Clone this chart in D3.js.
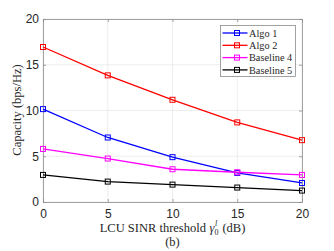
<!DOCTYPE html>
<html>
<head>
<meta charset="utf-8">
<script src="https://cdn.jsdelivr.net/npm/d3@7"></script>
<style>
  body { margin: 0; background: #fff; }
  .tick text { font-family: "Liberation Sans", Arial, sans-serif; font-size: 12px; fill: #262626; }
  .lbl { font-family: "Liberation Serif", "DejaVu Serif", serif; font-size: 12.5px; fill: #262626; }
</style>
</head>
<body>
<div class="chart"></div>
<script>
// chart data
var thresholds = [0, 5, 10, 15, 20];
var algo1 = [10.15, 7.05, 4.9, 3.18, 2.08];
var algo2 = [16.94, 13.84, 11.17, 8.7, 6.76];
var baseline4 = [5.8, 4.75, 3.58, 3.25, 2.96];
var baseline5 = [2.96, 2.23, 1.9, 1.58, 1.25];
var seriesNames = ["Algo 1", "Algo 2", "Baseline 4", "Baseline 5"];
var seriesColors = ["#0000ff", "#ff0000", "#ff00ff", "#000000"];
var yTicks = [0, 5, 10, 15, 20];

var svgWidth = 334, svgHeight = 251;
var margin = { top: 19, right: 32, bottom: 49, left: 43 };
var width = svgWidth - margin.left - margin.right;
var height = svgHeight - margin.top - margin.bottom;

var svg = d3.select(".chart")
    .append("svg")
    .attr("width", svgWidth)
    .attr("height", svgHeight);

var chartGroup = svg.append("g")
    .attr("transform", `translate(${margin.left}, ${margin.top})`);

var xScale = d3.scaleLinear().domain([0, 20]).range([0, width]);
var yScale = d3.scaleLinear().domain([0, 20]).range([height, 0]);

// grid
chartGroup.append("g").selectAll("line.gx")
    .data(thresholds).enter().append("line")
    .attr("x1", d => xScale(d)).attr("x2", d => xScale(d))
    .attr("y1", 0).attr("y2", height)
    .attr("stroke", "#e6e6e6").attr("stroke-width", 0.7);
chartGroup.append("g").selectAll("line.gy")
    .data(yTicks).enter().append("line")
    .attr("x1", 0).attr("x2", width)
    .attr("y1", d => yScale(d)).attr("y2", d => yScale(d))
    .attr("stroke", "#e6e6e6").attr("stroke-width", 0.7);

// axes
var bottomAxis = d3.axisBottom(xScale).tickValues(thresholds).tickSizeInner(-3).tickSizeOuter(0).tickPadding(7);
var leftAxis = d3.axisLeft(yScale).tickValues(yTicks).tickSizeInner(-3).tickSizeOuter(0).tickPadding(4);
var topAxis = d3.axisTop(xScale).tickValues(thresholds).tickSizeInner(-3).tickSizeOuter(0).tickFormat("");
var rightAxis = d3.axisRight(yScale).tickValues(yTicks).tickSizeInner(-3).tickSizeOuter(0).tickFormat("");

chartGroup.append("g").attr("transform", `translate(0, ${height})`).call(bottomAxis);
chartGroup.append("g").call(leftAxis);
chartGroup.append("g").call(topAxis);
chartGroup.append("g").attr("transform", `translate(${width}, 0)`).call(rightAxis);
chartGroup.selectAll(".domain, .tick line").attr("stroke", "#8c8c8c").attr("stroke-width", 0.8);

// lines
var allSeries = [algo1, algo2, baseline4, baseline5];
var line = d3.line().x((d, i) => xScale(thresholds[i])).y(d => yScale(d));

allSeries.forEach(function(vals, k) {
  chartGroup.append("path")
      .datum(vals)
      .attr("d", line)
      .attr("fill", "none")
      .attr("stroke", seriesColors[k])
      .attr("stroke-width", 1.3);
  chartGroup.selectAll(null)
      .data(vals).enter().append("rect")
      .attr("x", (d, i) => xScale(thresholds[i]) - 2.5)
      .attr("y", d => yScale(d) - 2.5)
      .attr("width", 5).attr("height", 5)
      .attr("fill", "none")
      .attr("stroke", seriesColors[k])
      .attr("stroke-width", 1);
});

// legend
var legend = svg.append("g").attr("transform", "translate(220.5, 25.5)");
legend.append("rect")
    .attr("width", 75).attr("height", 51)
    .attr("fill", "#fff").attr("stroke", "#8c8c8c").attr("stroke-width", 0.8);
seriesNames.forEach(function(name, k) {
  var y = 7.5 + k * 12.3;
  legend.append("line").attr("x1", 2).attr("x2", 27).attr("y1", y).attr("y2", y)
      .attr("stroke", seriesColors[k]).attr("stroke-width", 1.3);
  legend.append("rect").attr("x", 14).attr("y", y - 2.5).attr("width", 5).attr("height", 5)
      .attr("fill", "none").attr("stroke", seriesColors[k]).attr("stroke-width", 1);
  legend.append("text").attr("class", "lbl").attr("x", 28.5).attr("y", y + 3.8)
      .style("font-size", "10.3px").text(name);
});

// axis labels
svg.append("text")
    .attr("class", "lbl")
    .attr("transform", `translate(21, ${margin.top + 91}) rotate(-90)`)
    .attr("text-anchor", "middle")
    .text("Capacity (bps/Hz)");

// x title: main text, then gamma with separate sub/superscript
var xTitle = svg.append("g");
var t1 = xTitle.append("text").attr("class", "lbl").attr("x", 85).attr("y", 232)
    .text("LCU SINR threshold");
var gx = 85 + t1.node().getComputedTextLength() + 3.5;
var g1 = xTitle.append("text").attr("class", "lbl").attr("x", gx).attr("y", 232)
    .style("font-style", "italic").text("γ");
var gw = g1.node().getComputedTextLength();
xTitle.append("text").attr("class", "lbl").attr("x", gx + gw).attr("y", 235)
    .style("font-size", "8px").text("0");
xTitle.append("text").attr("class", "lbl").attr("x", gx + gw + 0.5).attr("y", 226)
    .style("font-size", "8px").style("font-style", "italic").text("l");
xTitle.append("text").attr("class", "lbl").attr("x", gx + gw + 8).attr("y", 232)
    .text("(dB)");
// center the whole title under the axes
var bb = xTitle.node().getBBox();
xTitle.attr("transform", `translate(${margin.left + width / 2 - (bb.x + bb.width / 2)}, 0)`);

svg.append("text")
    .attr("class", "lbl")
    .attr("x", margin.left + width / 2)
    .attr("y", 246)
    .attr("text-anchor", "middle")
    .text("(b)");
</script>
</body>
</html>
